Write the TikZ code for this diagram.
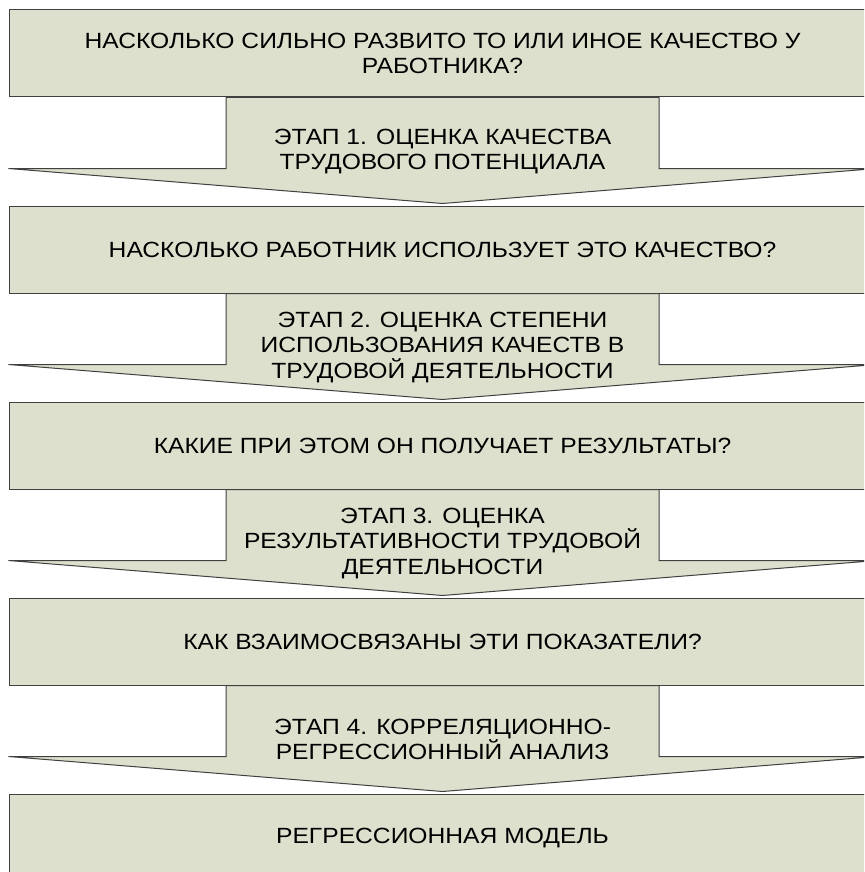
\documentclass[tikz,border=0pt]{standalone}
\usepackage{fontspec}
\setmainfont[FakeStretch=1.12]{Liberation Sans}
\usetikzlibrary{positioning,calc}

\definecolor{boxfill}{RGB}{221,224,205}

\begin{document}
\begin{tikzpicture}[x=1pt,y=-1pt,font=\fontsize{22}{25.5}\selectfont,
 q/.style={draw=black!75,fill=boxfill,line width=1pt,minimum width=867pt,minimum height=87pt,align=center,inner sep=0pt},
 stage/.style={draw=black!75,fill=boxfill,line width=1pt,line join=miter},
 st/.style={align=center,inner sep=0pt}]
\clip (0,0) rectangle (864,872);
\fill[white] (0,0) rectangle (864,872);
% questions
\node[q] (q1) at (442.5,53.5) {НАСКОЛЬКО СИЛЬНО РАЗВИТО ТО ИЛИ ИНОЕ КАЧЕСТВО У\\РАБОТНИКА?};
\node[q,below=108pt of q1] (q2) {НАСКОЛЬКО РАБОТНИК ИСПОЛЬЗУЕТ ЭТО КАЧЕСТВО?};
\node[q,below=108pt of q2] (q3) {КАКИЕ ПРИ ЭТОМ ОН ПОЛУЧАЕТ РЕЗУЛЬТАТЫ?};
\node[q,below=108pt of q3] (q4) {КАК ВЗАИМОСВЯЗАНЫ ЭТИ ПОКАЗАТЕЛИ?};
\node[q,below=108pt of q4] (q5) {РЕГРЕССИОННАЯ МОДЕЛЬ};
% stage arrows between the boxes
\coordinate (h1) at ($(q1.south)+(0,71)$);
\draw[stage] ($(q1.south)+(-216.5,0)$) |- (h1 -| q1.west) -- ([yshift=2pt]q2.north) -- (h1 -| q1.east) -| ($(q1.south)+(216.5,0)$) -- cycle;
\node[st] (e1) at ($(q1.south)!0.5!(q2.north)$) {ЭТАП 1. ОЦЕНКА КАЧЕСТВА\\ТРУДОВОГО ПОТЕНЦИАЛА};
\coordinate (h2) at ($(q2.south)+(0,71)$);
\draw[stage] ($(q2.south)+(-216.5,0)$) |- (h2 -| q2.west) -- ([yshift=2pt]q3.north) -- (h2 -| q2.east) -| ($(q2.south)+(216.5,0)$) -- cycle;
\node[st] (e2) at ($(q2.south)!0.5!(q3.north)$) {ЭТАП 2. ОЦЕНКА СТЕПЕНИ\\ИСПОЛЬЗОВАНИЯ КАЧЕСТВ В\\ТРУДОВОЙ ДЕЯТЕЛЬНОСТИ};
\coordinate (h3) at ($(q3.south)+(0,71)$);
\draw[stage] ($(q3.south)+(-216.5,0)$) |- (h3 -| q3.west) -- ([yshift=2pt]q4.north) -- (h3 -| q3.east) -| ($(q3.south)+(216.5,0)$) -- cycle;
\node[st] (e3) at ($(q3.south)!0.5!(q4.north)$) {ЭТАП 3. ОЦЕНКА\\РЕЗУЛЬТАТИВНОСТИ ТРУДОВОЙ\\ДЕЯТЕЛЬНОСТИ};
\coordinate (h4) at ($(q4.south)+(0,71)$);
\draw[stage] ($(q4.south)+(-216.5,0)$) |- (h4 -| q4.west) -- ([yshift=2pt]q5.north) -- (h4 -| q4.east) -| ($(q4.south)+(216.5,0)$) -- cycle;
\node[st] (e4) at ($(q4.south)!0.5!(q5.north)$) {ЭТАП 4. КОРРЕЛЯЦИОННО-\\РЕГРЕССИОННЫЙ АНАЛИЗ};
\end{tikzpicture}
\end{document}
